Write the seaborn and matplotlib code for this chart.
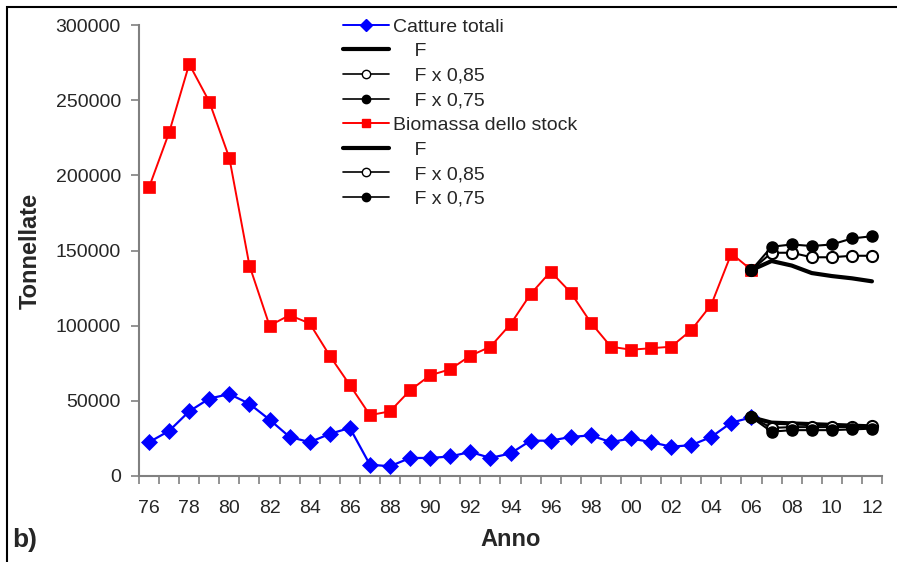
import matplotlib
matplotlib.use("Agg")
import matplotlib.pyplot as plt
from matplotlib.lines import Line2D
from matplotlib.patches import Rectangle
import seaborn as sns
import pandas as pd
import numpy as np

years = ['76', '77', '78', '79', '80', '81', '82', '83', '84', '85', '86', '87', '88', '89',
         '90', '91', '92', '93', '94', '95', '96', '97', '98', '99', '00', '01', '02', '03',
         '04', '05', '06', '07', '08', '09', '10', '11', '12']
proj_years = ['06', '07', '08', '09', '10', '11', '12']

catture = [22500, 30000, 43000, 51500, 54500, 48000, 37500, 26000, 22500, 28000, 32000,
           7500, 6500, 12000, 12000, 13000, 16000, 12000, 15000, 23500, 23500, 26000,
           27000, 22500, 25000, 22500, 19500, 20500, 26000, 35500, 39000]
biomassa = [192000, 228500, 274000, 249000, 211500, 140000, 100000, 107000, 101500, 80000,
            60500, 40500, 43000, 57000, 67000, 71000, 80000, 86000, 101000, 121000, 136000,
            122000, 102000, 86000, 84000, 85000, 86000, 97000, 114000, 148000, 137000]

cat_F = [39000, 35500, 35000, 34500, 34000, 33500, 33000]
cat_085 = [39000, 32000, 32500, 32500, 32500, 32500, 33000]
cat_075 = [39000, 29500, 30500, 30500, 30500, 31000, 31500]

bio_F = [137000, 143000, 140000, 135000, 133000, 131500, 129500]
bio_085 = [137000, 148500, 148500, 145500, 145500, 146500, 146500]
bio_075 = [137000, 152500, 154000, 153000, 154000, 158000, 159500]

legend_labels = ['Catture totali', '    F', '    F x 0,85', '    F x 0,75',
                 'Biomassa dello stock', '    F', '    F x 0,85', '    F x 0,75']

sns.set_theme(style='white')
plt.rcParams['font.family'] = ['Liberation Sans', 'DejaVu Sans']

W, H = 897, 562
fig = plt.figure(figsize=(W / 100, H / 100), dpi=100)
ax = fig.add_axes([139 / W, 1 - 476 / H, (882 - 139) / W, (476 - 25) / H])

pos = {y: i for i, y in enumerate(years)}
hist = pd.DataFrame({'x': [pos[y] for y in years[:len(catture)]],
                     'catture': catture, 'biomassa': biomassa})
proj = pd.DataFrame({'x': [pos[y] for y in proj_years],
                     'cat_F': cat_F, 'cat_085': cat_085, 'cat_075': cat_075,
                     'bio_F': bio_F, 'bio_085': bio_085, 'bio_075': bio_075})

sns.lineplot(data=hist, x='x', y='biomassa', ax=ax, color='#ff0000', lw=1.4,
             marker='s', markersize=8.3, markeredgecolor='#ff0000', markeredgewidth=0.5, zorder=3)
sns.lineplot(data=hist, x='x', y='catture', ax=ax, color='#0000ff', lw=1.6,
             marker='D', markersize=7.8, markeredgecolor='#0000ff', markeredgewidth=0.5, zorder=3)

for pre in ['cat', 'bio']:
    sns.lineplot(data=proj, x='x', y=f'{pre}_F', ax=ax, color='black', lw=3, zorder=4)
    sns.lineplot(data=proj, x='x', y=f'{pre}_085', ax=ax, color='black', lw=1.5,
                 marker='o', markersize=8, markerfacecolor='white',
                 markeredgecolor='black', markeredgewidth=1.5, zorder=5)
    sns.lineplot(data=proj, x='x', y=f'{pre}_075', ax=ax, color='black', lw=1.5,
                 marker='o', markersize=8, markerfacecolor='black',
                 markeredgecolor='black', markeredgewidth=1.0, zorder=6)

ax.set_xlim(-0.5, len(years) - 0.5)
ax.set_ylim(0, 300000)
ax.set_yticks(np.arange(0, 300001, 50000))
ax.set_yticklabels([f'{int(v)}' for v in np.arange(0, 300001, 50000)])
ax.set_xticks(np.arange(0, len(years), 2))
ax.set_xticklabels(years[::2])
ax.set_xticks(np.arange(-0.5, len(years), 1), minor=True)

gray = '#808080'
for s in ['top', 'right']:
    ax.spines[s].set_visible(False)
for s in ['left', 'bottom']:
    ax.spines[s].set_color(gray)
    ax.spines[s].set_linewidth(1.5)
ax.tick_params(axis='y', which='major', direction='out', length=6, width=1.2, color=gray,
               labelsize=14, pad=7, left=True)
ax.tick_params(axis='x', which='major', length=0, labelsize=14, pad=17, bottom=True)
ax.tick_params(axis='x', which='minor', direction='out', length=6, width=1.2, color=gray,
               bottom=True)
ax.set_ylabel('Tonnellate', fontsize=17, fontweight='bold', labelpad=10)
ax.set_xlabel('Anno', fontsize=17, fontweight='bold', labelpad=8)
ax.grid(False)

handles = [
    Line2D([], [], color='#0000ff', lw=1.4, marker='D', markersize=6, mec='#0000ff'),
    Line2D([], [], color='black', lw=3),
    Line2D([], [], color='black', lw=1.2, marker='o', markersize=6, mfc='white', mec='black'),
    Line2D([], [], color='black', lw=1.2, marker='o', markersize=6, mfc='black', mec='black'),
    Line2D([], [], color='#ff0000', lw=1.4, marker='s', markersize=6, mec='#ff0000'),
    Line2D([], [], color='black', lw=3),
    Line2D([], [], color='black', lw=1.2, marker='o', markersize=6, mfc='white', mec='black'),
    Line2D([], [], color='black', lw=1.2, marker='o', markersize=6, mfc='black', mec='black'),
]
fig.legend(handles, legend_labels, loc='upper left', bbox_to_anchor=(343 / W, 1 - 18 / H),
           frameon=False, fontsize=14, handlelength=2.35, handletextpad=0.2,
           labelspacing=0.36, borderpad=0, borderaxespad=0)

fig.text(12 / W, 1 - 540 / H, 'b)', fontsize=19, fontweight='bold', va='center', ha='left')
fig.patches.append(Rectangle((7 / W, -0.1), 1.2, 1 - 7 / H + 0.1, transform=fig.transFigure,
                             fill=False, edgecolor='black', lw=1.5))

fig.savefig('out.png', dpi=100)
